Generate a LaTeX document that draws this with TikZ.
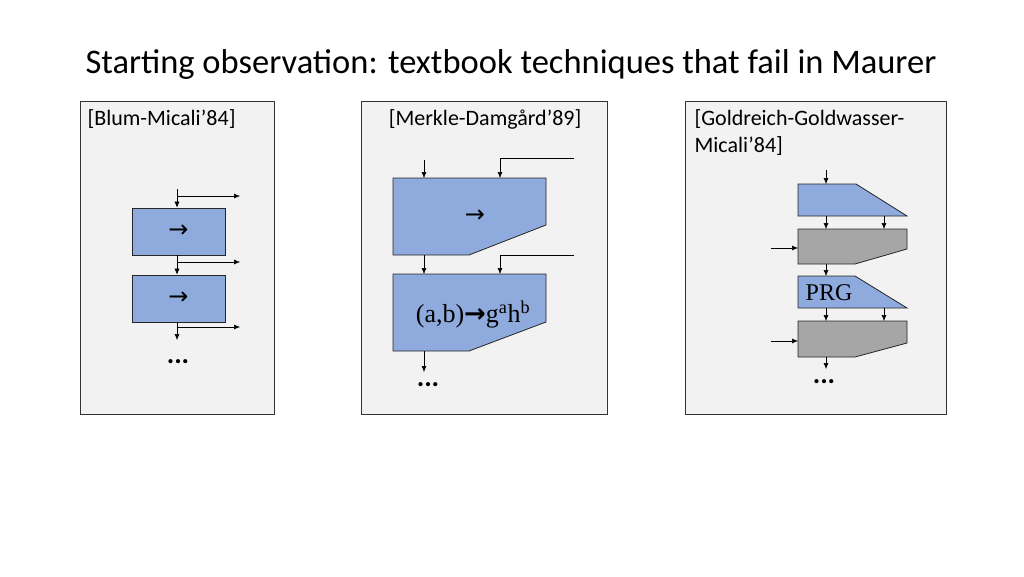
\documentclass[tikz,border=0pt]{standalone}
\usepackage{fontspec}
\setmainfont{Carlito}
\newfontfamily\serifr{Liberation Serif}
\newfontfamily\symf{DejaVu Sans}
\usetikzlibrary{arrows.meta}
\definecolor{blu}{HTML}{8FAADC}
\definecolor{gry}{HTML}{A6A6A6}
\definecolor{pan}{HTML}{F2F2F2}
\begin{document}
\begin{tikzpicture}[x=1pt,y=-1pt,
  panel/.style={draw=black!80,fill=pan,line width=0.9pt},
  blk/.style={draw=black!85,fill=blu,line width=0.8pt},
  gblk/.style={draw=black!85,fill=gry,line width=0.8pt},
  ar/.style={-{Latex[length=6pt,width=5pt]},line width=0.5pt},
  lab/.style={font=\fontsize{22}{27}\selectfont,anchor=west}]
\useasboundingbox (0,0) rectangle (1024,576);
\node (title) at (511,64) {\fontsize{34.5}{40}\selectfont Starting observation: textbook techniques that fail in Maurer};
% panel 1
\draw[panel] (80,101) rectangle (274,414);
\node[lab] (l1) at (84,119) {[Blum-Micali’84]};
\node[blk,minimum width=93pt,minimum height=47pt,font=\symf\fontsize{24}{24}\selectfont] (b1) at (178.5,231.5) {→};
\node[blk,minimum width=93pt,minimum height=47pt,font=\symf\fontsize{24}{24}\selectfont] (b2) at (178.5,298.5) {→};
\coordinate (t1) at (177,189);
\draw[ar] (t1) -- (b1.north -| t1);
\draw[ar] (177,196) -- (240,196);
\draw[ar] (b1.south -| t1) -- (b2.north -| t1);
\draw[ar] (177,262) -- (240,262);
\draw[ar] (b2.south -| t1) -- (177,340);
\draw[ar] (177,327) -- (240,327);
\node (d1) at (178,362) {\fontsize{28}{28}\selectfont\textbf{...}};
% panel 2
\draw[panel] (361,101) rectangle (607,414);
\node[lab,anchor=center] (l2) at (485,119) {[Merkle-Damgård’89]};
\draw[blk] (393,178) -- (546,178) -- (546,225) -- (469,255) -- (393,255) -- cycle;
\node (m1) at (475,216) {\symf\fontsize{24}{24}\selectfont →};
\draw[blk] (393,274) -- (546,274) -- (546,322) -- (469,351) -- (393,351) -- cycle;
\node (m2) at (473,314) {\serifr\fontsize{26}{26}\selectfont (a,b)\symf\textbf{→}\serifr g\textsuperscript{a}h\textsuperscript{b}};
\draw[ar] (424,160) -- (424,178);
\draw[ar] (574,158) -- (500,158) -- (500,178);
\draw[ar] (424,255) -- (424,274);
\draw[ar] (574,255) -- (500,255) -- (500,274);
\draw[ar] (424,351) -- (424,372);
\node (d2) at (428,385) {\fontsize{28}{28}\selectfont\textbf{...}};
% panel 3
\draw[panel] (685,101) rectangle (946,414);
\node[lab,anchor=north west,align=left] (l3) at (691,106) {[Goldreich-Goldwasser-\\Micali’84]};
\draw[blk] (798,184) -- (856,184) -- (907,216) -- (798,216) -- cycle;
\draw[gblk] (798,229) -- (907,229) -- (907,249) -- (855,264) -- (798,264) -- cycle;
\draw[blk] (798,276) -- (855,276) -- (907,308) -- (798,308) -- cycle;
\node (prg) at (829,293) {\serifr\fontsize{24}{24}\selectfont PRG};
\draw[gblk] (798,321) -- (907,321) -- (907,343) -- (855,357) -- (798,357) -- cycle;
\draw[ar] (826,170) -- (826,184);
\draw[ar] (826,216) -- (826,229);
\draw[ar] (884,216) -- (884,229);
\draw[ar] (771,248) -- (798,248);
\draw[ar] (826,264) -- (826,276);
\draw[ar] (826,308) -- (826,321);
\draw[ar] (884,308) -- (884,321);
\draw[ar] (771,341) -- (798,341);
\draw[ar] (826,357) -- (826,369);
\node (d3) at (824,382) {\fontsize{28}{28}\selectfont\textbf{...}};
\end{tikzpicture}
\end{document}
